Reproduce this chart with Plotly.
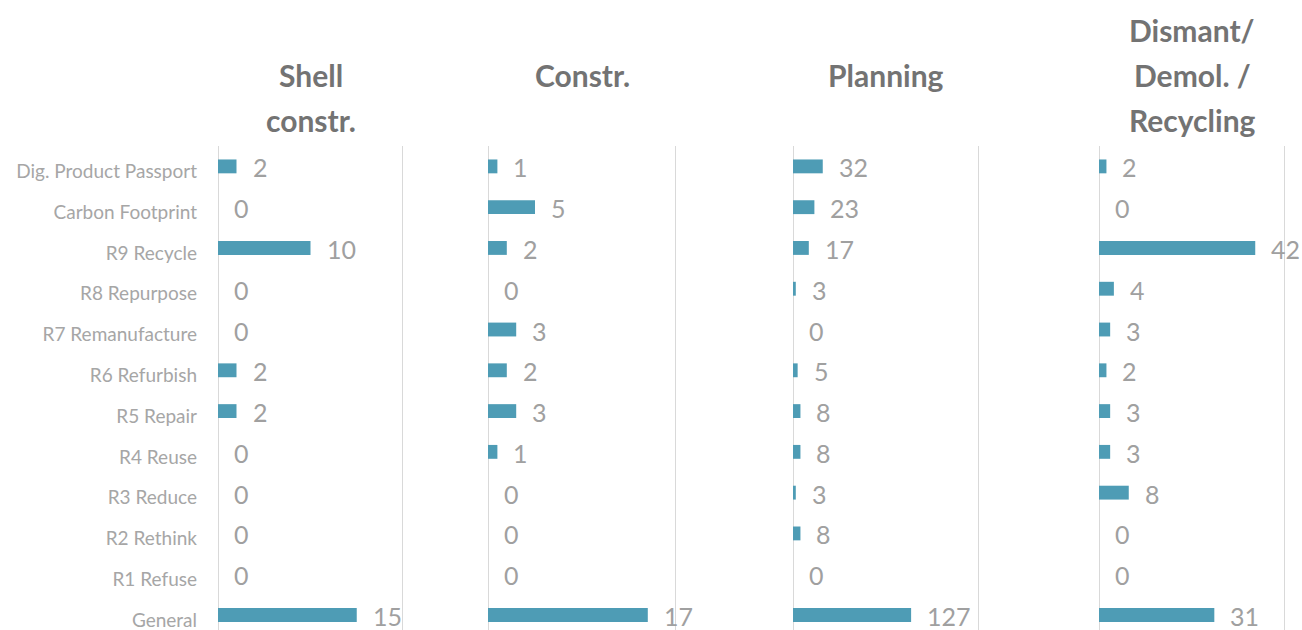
import plotly.graph_objects as go

# Categories listed top to bottom
categories = [
    "Dig. Product Passport", "Carbon Footprint", "R9 Recycle", "R8 Repurpose",
    "R7 Remanufacture", "R6 Refurbish", "R5 Repair", "R4 Reuse",
    "R3 Reduce", "R2 Rethink", "R1 Refuse", "General",
]
shell_constr = [2, 0, 10, 0, 0, 2, 2, 0, 0, 0, 0, 15]
constr = [1, 5, 2, 0, 3, 2, 3, 1, 0, 0, 0, 17]
planning = [32, 23, 17, 3, 0, 5, 8, 8, 3, 8, 0, 127]
dismantling = [2, 0, 42, 4, 3, 2, 3, 3, 8, 0, 0, 31]

panel_titles = [
    ["Shell", "constr."],
    ["Constr."],
    ["Planning"],
    ["Dismant/", "Demol. /", "Recycling"],
]
axis_max = [20, 20, 200, 50]

series = [shell_constr, constr, planning, dismantling]

W, H = 1302, 630
TOP = 146
domains_px = [(218, 403), (488, 676), (793, 979), (1099, 1285)]
title_first_line_px = [75, 75, 75, 30]
LINE_STEP = 45

BAR = "#4e9cb5"
GRID = "#d9d9d9"
LABEL_GREY = "#a0a0a0"
TICK_GREY = "#a6a6a6"
TITLE_GREY = "#737373"
FONT = "Lato"

fig = go.Figure()
annotations = []
shapes = []

for i, vals in enumerate(series):
    xa = "x" if i == 0 else f"x{i + 1}"
    fig.add_trace(go.Bar(
        x=vals, y=categories, orientation="h",
        xaxis=xa, yaxis="y", width=0.34,
        marker=dict(color=BAR, line=dict(width=0)),
        hoverinfo="x+y", showlegend=False,
    ))
    # value labels to the right of each bar
    for v, c in zip(vals, categories):
        annotations.append(dict(
            x=v, y=c, xref=xa, yref="y", text=str(v), showarrow=False,
            xanchor="left", yanchor="middle", xshift=14, yshift=-1,
            font=dict(family=FONT, size=25, color=LABEL_GREY),
        ))
    # axis line at zero and gridline at the axis maximum
    for gx in (0, axis_max[i]):
        shapes.append(dict(
            type="line", xref=xa, yref="paper", x0=gx, x1=gx, y0=0, y1=1,
            line=dict(color=GRID, width=2), layer="below",
        ))
    # panel title, one annotation per line
    x0, x1 = domains_px[i]
    for k, line in enumerate(panel_titles[i]):
        py = title_first_line_px[i] + k * LINE_STEP
        annotations.append(dict(
            x=(x0 + x1) / 2 / W, y=(H - py) / (H - TOP),
            xref="paper", yref="paper", text=f"<b>{line}</b>", showarrow=False,
            xanchor="center", yanchor="middle",
            font=dict(family=FONT, size=30, color=TITLE_GREY),
        ))

layout_axes = {}
for i in range(4):
    key = "xaxis" if i == 0 else f"xaxis{i + 1}"
    x0, x1 = domains_px[i]
    layout_axes[key] = dict(
        domain=[x0 / W, x1 / W], range=[0, axis_max[i]], anchor="y",
        showticklabels=False, ticks="", showgrid=False,
        zeroline=False, showline=False, fixedrange=True,
    )

fig.update_layout(
    width=W, height=H,
    margin=dict(l=0, r=0, t=TOP, b=0),
    paper_bgcolor="white", plot_bgcolor="white",
    yaxis=dict(
        domain=[0, 1], anchor="x", type="category",
        categoryorder="array", categoryarray=categories,
        range=[11.368, -0.5], showgrid=False, zeroline=False, showline=False,
        ticks="", ticklabelstandoff=20, ticklabelshift=-5, automargin=False,
        tickfont=dict(family=FONT, size=19, color=TICK_GREY),
    ),
    annotations=annotations,
    shapes=shapes,
    **layout_axes,
)

fig.write_html("out.html")
